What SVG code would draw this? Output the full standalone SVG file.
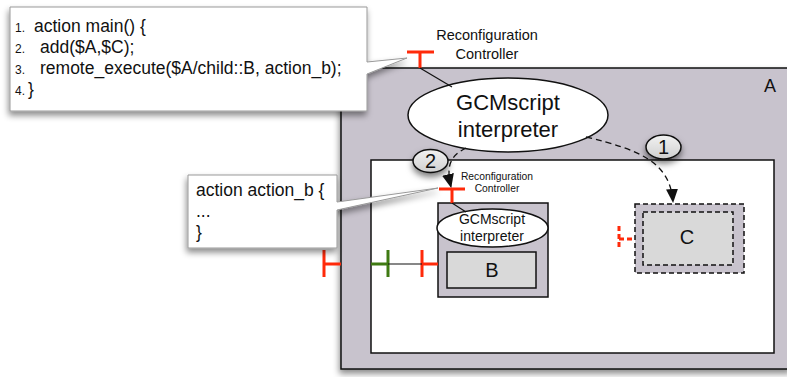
<svg xmlns="http://www.w3.org/2000/svg" width="787" height="377" viewBox="0 0 787 377">
<style>
text{font-family:"Liberation Sans",Arial,Helvetica,sans-serif;fill:#111}
.comp{fill:#c8c3cd;stroke:#111;stroke-width:1.5}
.inner{fill:#d9d9d9;stroke:#111;stroke-width:1.5}
.white{fill:#fff;stroke:#111;stroke-width:1.5}
.ell{fill:#fff;stroke:#111;stroke-width:1.5}
.red{stroke:#ff2a0a;stroke-width:3;fill:none}
.green{stroke:#3f7a12;stroke-width:3;fill:none}
.thin{stroke:#111;stroke-width:1.2;fill:none}
.dash{stroke:#111;stroke-width:1.3;fill:none;stroke-dasharray:6 4}
.callout{fill:#fff;stroke:#999;stroke-width:1}
.num{fill:url(#bub);stroke:#111;stroke-width:1.5}
</style>
<defs>
<filter id="sh" x="-10%" y="-10%" width="125%" height="130%">
<feDropShadow dx="-1" dy="4" stdDeviation="3" flood-color="#000" flood-opacity="0.45"/>
</filter>
<filter id="sh2" x="-30%" y="-30%" width="160%" height="180%">
<feDropShadow dx="0" dy="4" stdDeviation="3" flood-color="#000" flood-opacity="0.5"/>
</filter>
<linearGradient id="bub" x1="0" y1="0" x2="0" y2="1">
<stop offset="0" stop-color="#f2f2f2"/>
<stop offset="1" stop-color="#cfcfcf"/>
</linearGradient>
<marker id="ah" markerUnits="userSpaceOnUse" markerWidth="14" markerHeight="14" viewBox="0 0 14 14" refX="13" refY="7" orient="auto">
<path d="M0,1 L14,7 L0,13 Z" fill="#111"/>
</marker>
</defs>

<g id="A">
<rect class="comp" x="341" y="68" width="450" height="301" filter="url(#sh)"/>
<rect class="white" x="371" y="160" width="403" height="193"/>
<text x="770" y="92" font-size="18" text-anchor="middle">A</text>
</g>

<g id="A-port">
<path class="red" d="M324,250 V277 M324,264 H341"/>
</g>

<g id="A-controller">
<path class="red" d="M407,52 H434 M420,52 V68"/>
<text x="487" y="40" font-size="14.5" text-anchor="middle">Reconfiguration</text>
<text x="487" y="59" font-size="14.5" text-anchor="middle">Controller</text>
</g>

<g id="A-interpreter">
<ellipse class="ell" cx="508" cy="115" rx="100" ry="37"/>
<text x="508" y="110" font-size="22" text-anchor="middle">GCMscript</text>
<text x="508" y="137" font-size="22" text-anchor="middle">interpreter</text>
</g>

<g id="B">
<rect class="comp" x="438" y="203" width="110" height="94"/>
<rect class="inner" x="447" y="252" width="89" height="36"/>
<text x="492" y="277" font-size="20" text-anchor="middle">B</text>
</g>

<g id="B-controller">
<path class="red" d="M439,189 H465 M452,189 V203"/>
<text x="497" y="180" font-size="10.3" text-anchor="middle">Reconfiguration</text>
<text x="497" y="192" font-size="10.3" text-anchor="middle">Controller</text>
</g>

<g id="B-interpreter">
<ellipse class="ell" cx="492.5" cy="228" rx="55.5" ry="19"/>
<text x="492" y="224" font-size="14" text-anchor="middle">GCMscript</text>
<text x="492" y="241" font-size="14" text-anchor="middle">interpreter</text>
</g>

<g id="B-port">
<path class="red" d="M422,250 V277 M422,264 H438"/>
</g>

<g id="A-internal-port">
<path class="green" d="M388,250 V277 M371,264 H388"/>
</g>

<g id="C">
<rect x="635" y="204" width="109" height="69" fill="#c8c3cd" stroke="#111" stroke-width="1.5" stroke-dasharray="5 3"/>
<rect x="643" y="212" width="90" height="53" fill="#d9d9d9" stroke="#111" stroke-width="1.5" stroke-dasharray="5 3"/>
<text x="687" y="244" font-size="20" text-anchor="middle">C</text>
</g>

<g id="C-port">
<path class="red" d="M619,226 V247 M619,239 H635" stroke-dasharray="5 3"/>
</g>

<g id="connectors">
<path class="thin" d="M420,68 L452,87"/>
<path class="thin" d="M452,203 L466,212"/>
<path class="thin" d="M388,264 H422"/>
<path class="dash" d="M586,137 C640,150 670,162 673,202" marker-end="url(#ah)"/>
<path class="dash" d="M466,148 C450,156 446,166 451,187" marker-end="url(#ah)"/>
</g>

<g id="step1">
<ellipse class="num" cx="663.5" cy="147" rx="17.5" ry="12" filter="url(#sh2)"/>
<text x="663.5" y="154" font-size="20" text-anchor="middle">1</text>
</g>

<g id="step2">
<ellipse class="num" cx="430.5" cy="161" rx="17.5" ry="11.5" filter="url(#sh2)"/>
<text x="430.5" y="168" font-size="20" text-anchor="middle">2</text>
</g>

<g id="callout-main">
<path class="callout" d="M10,7 H367 V62 L407,58 L367,74 V111 H10 Z" filter="url(#sh)"/>
<text font-size="12" x="15" y="32">1.</text>
<text font-size="17.5" x="34" y="32">action main() {</text>
<text font-size="12" x="15" y="53">2.</text>
<text font-size="17.5" x="40" y="53">add($A,$C);</text>
<text font-size="12" x="15" y="74">3.</text>
<text font-size="17.5" x="40" y="74">remote_execute($A/child::B, action_b);</text>
<text font-size="12" x="15" y="95">4.</text>
<text font-size="17.5" x="28" y="95">}</text>
</g>

<g id="callout-b">
<path class="callout" d="M188,175 H337 V202 L438,188 L337,210 V248 H188 Z" filter="url(#sh)"/>
<text font-size="17.5" x="196" y="196">action action_b {</text>
<text font-size="17.5" x="196" y="217">...</text>
<text font-size="17.5" x="196" y="238">}</text>
</g>
</svg>
